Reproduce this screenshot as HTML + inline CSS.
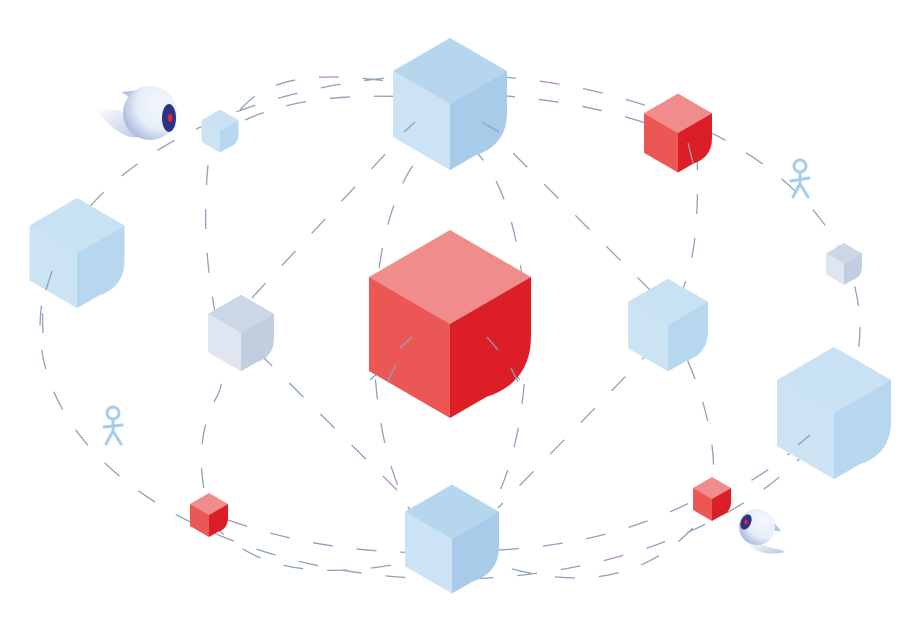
<!DOCTYPE html>
<html><head><meta charset="utf-8"><style>html,body{margin:0;padding:0;background:#fff}svg{display:block}</style></head>
<body>
<svg width="917" height="625" viewBox="0 0 917 625" xmlns="http://www.w3.org/2000/svg">
<defs>
<radialGradient id="head" cx="0.7" cy="0.35" r="0.75"><stop offset="0" stop-color="#f4f8fd"/><stop offset="0.6" stop-color="#e6eef9"/><stop offset="1" stop-color="#a9b8dc"/></radialGradient>
<linearGradient id="wing" x1="0" y1="0" x2="1" y2="1"><stop offset="0" stop-color="#ffffff"/><stop offset="1" stop-color="#b9c6e6"/></linearGradient>
<g id="top"><path d="M0,-1.16 L1,-0.58 L0,0 L-1,-0.58Z"/></g>
<g id="left"><path d="M-1,-0.58 L0,0 L0,1.16 L-1,0.58Z"/></g>
<g id="right"><path d="M0,0 L1,-0.58 L1,0.15 Q1,0.72 0.45,0.9 L0,1.16Z"/></g>
</defs>

<g fill="none" stroke="#8da1bb" stroke-width="1.3" stroke-dasharray="20 24">
  <ellipse cx="450" cy="327" rx="410" ry="252"/>
  <ellipse cx="450" cy="340" rx="76" ry="200"/>
  <path d="M208,165 C195,300 240,360 215,400 C195,440 200,480 210,515"/>
  <path d="M697,150 C700,250 690,280 668,320 C700,380 720,440 712,500"/>
  <path d="M415,122 L250,300"/>
  <path d="M482,122 L650,290"/>
  <path d="M258,352 L412,505"/>
  <path d="M656,345 L498,508"/>
  <path d="M245,120 C300,95 360,95 420,97"/>
  <path d="M495,95 C560,100 610,110 660,128"/>
  <path d="M240,110 C270,75 320,72 395,82"/>
  <path d="M228,520 C300,545 360,552 430,553"/>
  <path d="M499,550 C580,545 640,530 715,490"/>
  <path d="M210,520 C250,570 320,585 440,555"/>
  <path d="M470,555 C560,590 640,590 700,520"/>
  <path d="M712,500 C760,480 790,455 815,430"/>
  <path d="M50,270 C40,300 42,330 45,350"/>
  <path d="M370,380 L420,335"/>
  <path d="M480,335 L520,380"/>
</g>

<!-- cubes -->
<g>
<!-- big red -->
<g transform="translate(450,324) scale(81)"><use href="#top" fill="#f08c8b"/><use href="#left" fill="#ea5755"/><use href="#right" fill="#dc1f26"/></g>
<!-- top blue -->
<g transform="translate(450,104) scale(57)"><use href="#top" fill="#b6d6ee"/><use href="#left" fill="#cbe3f4"/><use href="#right" fill="#a8cbea"/></g>
<!-- red top right -->
<g transform="translate(678,133) scale(34)"><use href="#top" fill="#f08c8b"/><use href="#left" fill="#ea5755"/><use href="#right" fill="#dc1f26"/></g>
<!-- small blue -->
<g transform="translate(220,131) scale(18.5)"><use href="#top" fill="#c8e1f3"/><use href="#left" fill="#cce3f4"/><use href="#right" fill="#b7d7ef"/></g>
<!-- left blue -->
<g transform="translate(77,253) scale(47.5)"><use href="#top" fill="#c8e1f3"/><use href="#left" fill="#cce3f4"/><use href="#right" fill="#b7d7ef"/></g>
<!-- gray left -->
<g transform="translate(241,333) scale(33)"><use href="#top" fill="#cbd7e6"/><use href="#left" fill="#dfe6f1"/><use href="#right" fill="#c0cee0"/></g>
<!-- right mid blue -->
<g transform="translate(668,325) scale(40)"><use href="#top" fill="#c8e1f3"/><use href="#left" fill="#cce3f4"/><use href="#right" fill="#b7d7ef"/></g>
<!-- small gray right -->
<g transform="translate(844,264) scale(18)"><use href="#top" fill="#cbd7e6"/><use href="#left" fill="#dfe6f1"/><use href="#right" fill="#c0cee0"/></g>
<!-- big right blue -->
<g transform="translate(834,413) scale(57)"><use href="#top" fill="#c8e1f3"/><use href="#left" fill="#cce3f4"/><use href="#right" fill="#b7d7ef"/></g>
<!-- bottom blue -->
<g transform="translate(452,539) scale(47)"><use href="#top" fill="#b6d6ee"/><use href="#left" fill="#cbe3f4"/><use href="#right" fill="#a8cbea"/></g>
<!-- small red left bottom -->
<g transform="translate(209,515) scale(19)"><use href="#top" fill="#f08c8b"/><use href="#left" fill="#ea5755"/><use href="#right" fill="#dc1f26"/></g>
<!-- small red right bottom -->
<g transform="translate(712,499) scale(19)"><use href="#top" fill="#f08c8b"/><use href="#left" fill="#ea5755"/><use href="#right" fill="#dc1f26"/></g>
</g>

<!-- dashes over cubes -->
<g fill="none" stroke="#8da1bb" stroke-width="1.3">
  <path d="M412,337 L400,348"/><path d="M396,365 L387,382"/>
  <path d="M487,337 L498,350"/><path d="M511,368 L518,382"/>
  <path d="M688,143 L693,163"/>
  <path d="M415,122 L404,132"/><path d="M482,122 L499,132"/>
  <path d="M52,271 L46,290"/>
  <path d="M798,445 L810,435"/>
</g>

<!-- robot top-left -->
<g>
  <path d="M96,110 C120,104 140,120 142,132 C140,142 120,140 96,110Z" fill="url(#wing)"/>
  <path d="M121,92 L140,90 L134,100Z" fill="#b4c4e6"/>
  <circle cx="150" cy="113" r="27" fill="url(#head)"/>
  <ellipse cx="169" cy="118" rx="7" ry="14" fill="#2a3487"/>
  <ellipse cx="170" cy="118" rx="2.5" ry="4" fill="#e0262a"/>
</g>
<!-- robot bottom-right -->
<g>
  <path d="M752,540 C765,548 780,548 785,552 C770,556 755,552 750,545Z" fill="url(#wing)"/>
  <path d="M772,520 L781,531 L772,531Z" fill="#b4c4e6"/>
  <circle cx="757" cy="527" r="18" fill="url(#head)"/>
  <ellipse cx="746" cy="522" rx="5" ry="8" fill="#2a3487" transform="rotate(25 746 522)"/>
  <ellipse cx="746" cy="522" rx="1.8" ry="2.6" fill="#e0262a"/>
</g>

<!-- persons -->
<g fill="none" stroke="#a7cdec" stroke-width="3" stroke-linecap="round">
  <circle cx="800" cy="166" r="6"/>
  <path d="M791,181 L809,178 M800,172 L800,184 M800,184 L793,197 M800,184 L808,197"/>
  <circle cx="113" cy="413" r="6"/>
  <path d="M104,427 L122,425 M113,419 L113,431 M113,431 L106,444 M113,431 L121,444"/>
</g>
</svg>
</body></html>
